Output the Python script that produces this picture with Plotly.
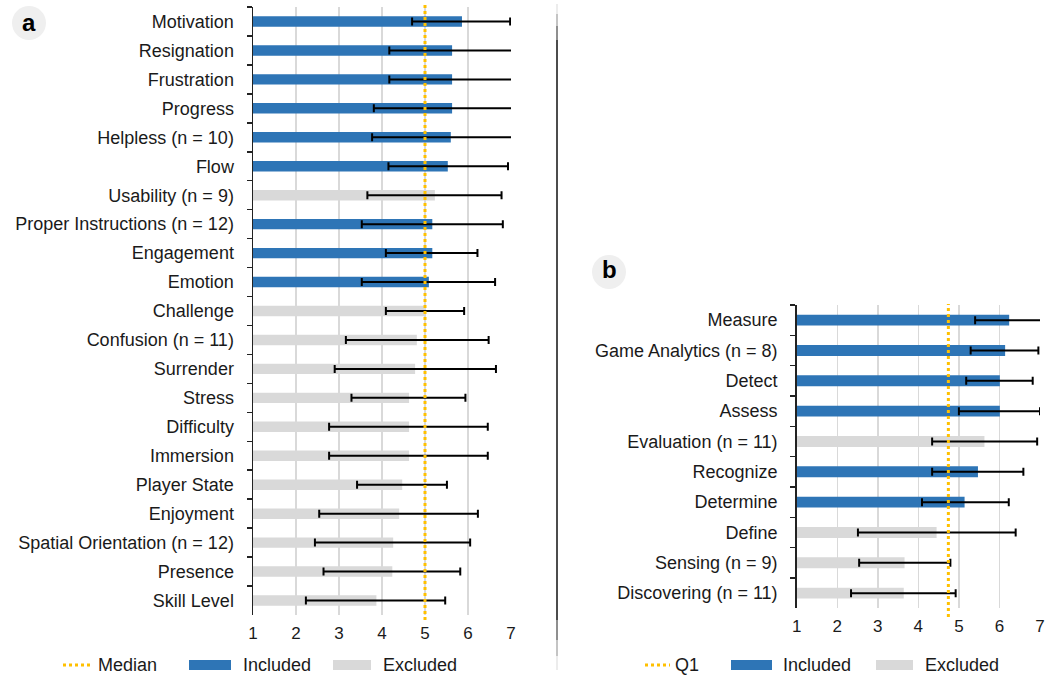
import plotly.graph_objects as go

W, H = 1051, 677

# ---------------- Data: panel a ----------------
cats_a = ["Motivation", "Resignation", "Frustration", "Progress", "Helpless (n = 10)",
          "Flow", "Usability (n = 9)", "Proper Instructions (n = 12)", "Engagement",
          "Emotion", "Challenge", "Confusion (n = 11)", "Surrender", "Stress",
          "Difficulty", "Immersion", "Player State", "Enjoyment",
          "Spatial Orientation (n = 12)", "Presence", "Skill Level"]
mean_a = [5.86, 5.63, 5.63, 5.63, 5.60, 5.53, 5.23, 5.17, 5.17, 5.09, 5.00, 4.81,
          4.77, 4.63, 4.63, 4.63, 4.47, 4.40, 4.26, 4.24, 3.87]
lower_a = [4.70, 4.17, 4.17, 3.81, 3.77, 4.15, 3.66, 3.53, 4.09, 3.53, 4.09, 3.16,
           2.90, 3.29, 2.77, 2.77, 3.42, 2.54, 2.44, 2.64, 2.23]
upper_a = [6.98, 7.20, 7.20, 7.20, 7.20, 6.93, 6.78, 6.81, 6.22, 6.63, 5.91, 6.48,
           6.65, 5.94, 6.46, 6.46, 5.51, 6.23, 6.05, 5.82, 5.47]
incl_a = [True, True, True, True, True, True, False, True, True, True, False, False,
          False, False, False, False, False, False, False, False, False]
median_a = 5.0

# ---------------- Data: panel b ----------------
cats_b = ["Measure", "Game Analytics (n = 8)", "Detect", "Assess", "Evaluation (n = 11)",
          "Recognize", "Determine", "Define", "Sensing (n = 9)", "Discovering (n = 11)"]
mean_b = [6.24, 6.14, 6.01, 6.01, 5.63, 5.47, 5.14, 4.45, 3.66, 3.64]
lower_b = [5.40, 5.29, 5.18, 5.00, 4.34, 4.34, 4.09, 2.51, 2.54, 2.34]
upper_b = [7.10, 6.96, 6.82, 7.00, 6.93, 6.59, 6.23, 6.40, 4.79, 4.92]
incl_b = [True, True, True, True, False, True, True, False, False, False]
q1_b = 4.74

x_ticks = [1, 2, 3, 4, 5, 6, 7]

BLUE = "#2E75B6"
GRAY = "#D9D9D9"
ORANGE = "#FFC000"
TXT = "#1a1a1a"
FONT = "Liberation Sans, Arial, sans-serif"


def px_x(p):
    return p / W


def px_y(p):
    return 1 - p / H


fig = go.Figure()


def add_panel(cats, mean, lower, upper, incl, xa, ya):
    colors = [BLUE if i else GRAY for i in incl]
    fig.add_trace(go.Bar(
        y=cats, x=mean, orientation="h",
        marker=dict(color=colors, line=dict(width=0)),
        error_x=dict(type="data", symmetric=False,
                     array=[u - m for u, m in zip(upper, mean)],
                     arrayminus=[m - l for m, l in zip(mean, lower)],
                     color="black", thickness=2, width=4),
        xaxis=xa, yaxis=ya, showlegend=False, hoverinfo="skip",
    ))


add_panel(cats_a, mean_a, lower_a, upper_a, incl_a, "x", "y")
add_panel(cats_b, mean_b, lower_b, upper_b, incl_b, "x2", "y2")

xcommon = dict(range=[1, 7], tickvals=x_ticks, showgrid=True, gridcolor="#D9D9D9",
               gridwidth=1.5, zeroline=False, showline=False, ticks="",
               ticklabelstandoff=6,
               tickfont=dict(size=17, color=TXT, family=FONT), fixedrange=True)
ycommon = dict(type="category", autorange="reversed", showline=True, linecolor="#222",
               linewidth=1.5, ticks="outside", ticklen=5, tickwidth=1.5, tickcolor="#222",
               tickson="boundaries", showgrid=False, ticklabelstandoff=14,
               tickfont=dict(size=18, color=TXT, family=FONT), fixedrange=True)

fig.update_layout(
    width=W, height=H,
    margin=dict(l=0, r=0, t=0, b=0, autoexpand=False),
    plot_bgcolor="white", paper_bgcolor="white",
    bargap=0.64,
    font=dict(family=FONT, color=TXT),
    xaxis=dict(domain=[px_x(253), px_x(511)], anchor="y", **xcommon),
    yaxis=dict(domain=[px_y(615), px_y(7)], anchor="x", categoryarray=cats_a, **ycommon),
    xaxis2=dict(domain=[px_x(796.7), px_x(1040)], anchor="y2", **xcommon),
    yaxis2=dict(domain=[px_y(608.3), px_y(305)], anchor="x2", categoryarray=cats_b, **ycommon),
)

shapes = []
# median / Q1 reference lines
shapes.append(dict(type="line", xref="x", yref="paper", x0=median_a, x1=median_a,
                   y0=px_y(620), y1=px_y(4), line=dict(color=ORANGE, width=3, dash="dot"),
                   layer="above"))
shapes.append(dict(type="line", xref="x2", yref="paper", x0=q1_b, x1=q1_b,
                   y0=px_y(617), y1=px_y(304), line=dict(color=ORANGE, width=3, dash="dot"),
                   layer="above"))

# divider line with faded ends
seg = [(4, 14, "#e6e6e6"), (14, 26, "#b0b0b0"), (26, 40, "#6a6a6a"), (40, 620, "#111111"),
       (620, 640, "#6a6a6a"), (640, 656, "#b0b0b0"), (656, 670, "#e6e6e6")]
for y0, y1, c in seg:
    shapes.append(dict(type="line", xref="paper", yref="paper", x0=px_x(557), x1=px_x(557),
                       y0=px_y(y1), y1=px_y(y0), line=dict(color=c, width=1.5)))

# panel badges
for cx, cy in [(29, 23), (609, 272)]:
    shapes.append(dict(type="circle", xref="paper", yref="paper",
                       x0=px_x(cx - 17), x1=px_x(cx + 17), y0=px_y(cy + 17), y1=px_y(cy - 17),
                       fillcolor="#EFEFEF", line=dict(width=0), layer="below"))

annotations = [
    dict(text="<b>a</b>", x=px_x(29), y=px_y(22), xref="paper", yref="paper",
         xanchor="center", yanchor="middle",
         showarrow=False, font=dict(size=24, color="black", family=FONT)),
    dict(text="<b>b</b>", x=px_x(609), y=px_y(270), xref="paper", yref="paper",
         xanchor="center", yanchor="middle",
         showarrow=False, font=dict(size=24, color="black", family=FONT)),
]


# legends (drawn manually)
def legend(ref_label, x_line, x_label, x_inc, x_inc_t, x_exc, x_exc_t):
    yc = 665
    shapes.append(dict(type="line", xref="paper", yref="paper",
                       x0=px_x(x_line[0]), x1=px_x(x_line[1]), y0=px_y(yc), y1=px_y(yc),
                       line=dict(color=ORANGE, width=3, dash="dot")))
    annotations.append(dict(text=ref_label, x=px_x(x_label), y=px_y(yc), xref="paper",
                            yref="paper", xanchor="left", yanchor="middle", showarrow=False,
                            font=dict(size=18, color=TXT, family=FONT)))
    for (xs, color), xt, lab in [((x_inc, BLUE), x_inc_t, "Included"),
                                 ((x_exc, GRAY), x_exc_t, "Excluded")]:
        shapes.append(dict(type="rect", xref="paper", yref="paper",
                           x0=px_x(xs[0]), x1=px_x(xs[1]), y0=px_y(670), y1=px_y(660),
                           fillcolor=color, line=dict(width=0)))
        annotations.append(dict(text=lab, x=px_x(xt), y=px_y(yc), xref="paper",
                                yref="paper", xanchor="left", yanchor="middle",
                                showarrow=False,
                                font=dict(size=18, color=TXT, family=FONT)))


legend("Median", (63, 92), 96, (189, 231), 241, (333, 371), 381)
legend("Q1", (645, 670), 673, (731, 772), 781, (876, 913), 923)

fig.update_layout(shapes=shapes, annotations=annotations)

fig.write_html("out.html",
               config={"displayModeBar": False, "staticPlot": True},
               post_script="document.body.style.margin='0';document.body.style.overflow='hidden';")
